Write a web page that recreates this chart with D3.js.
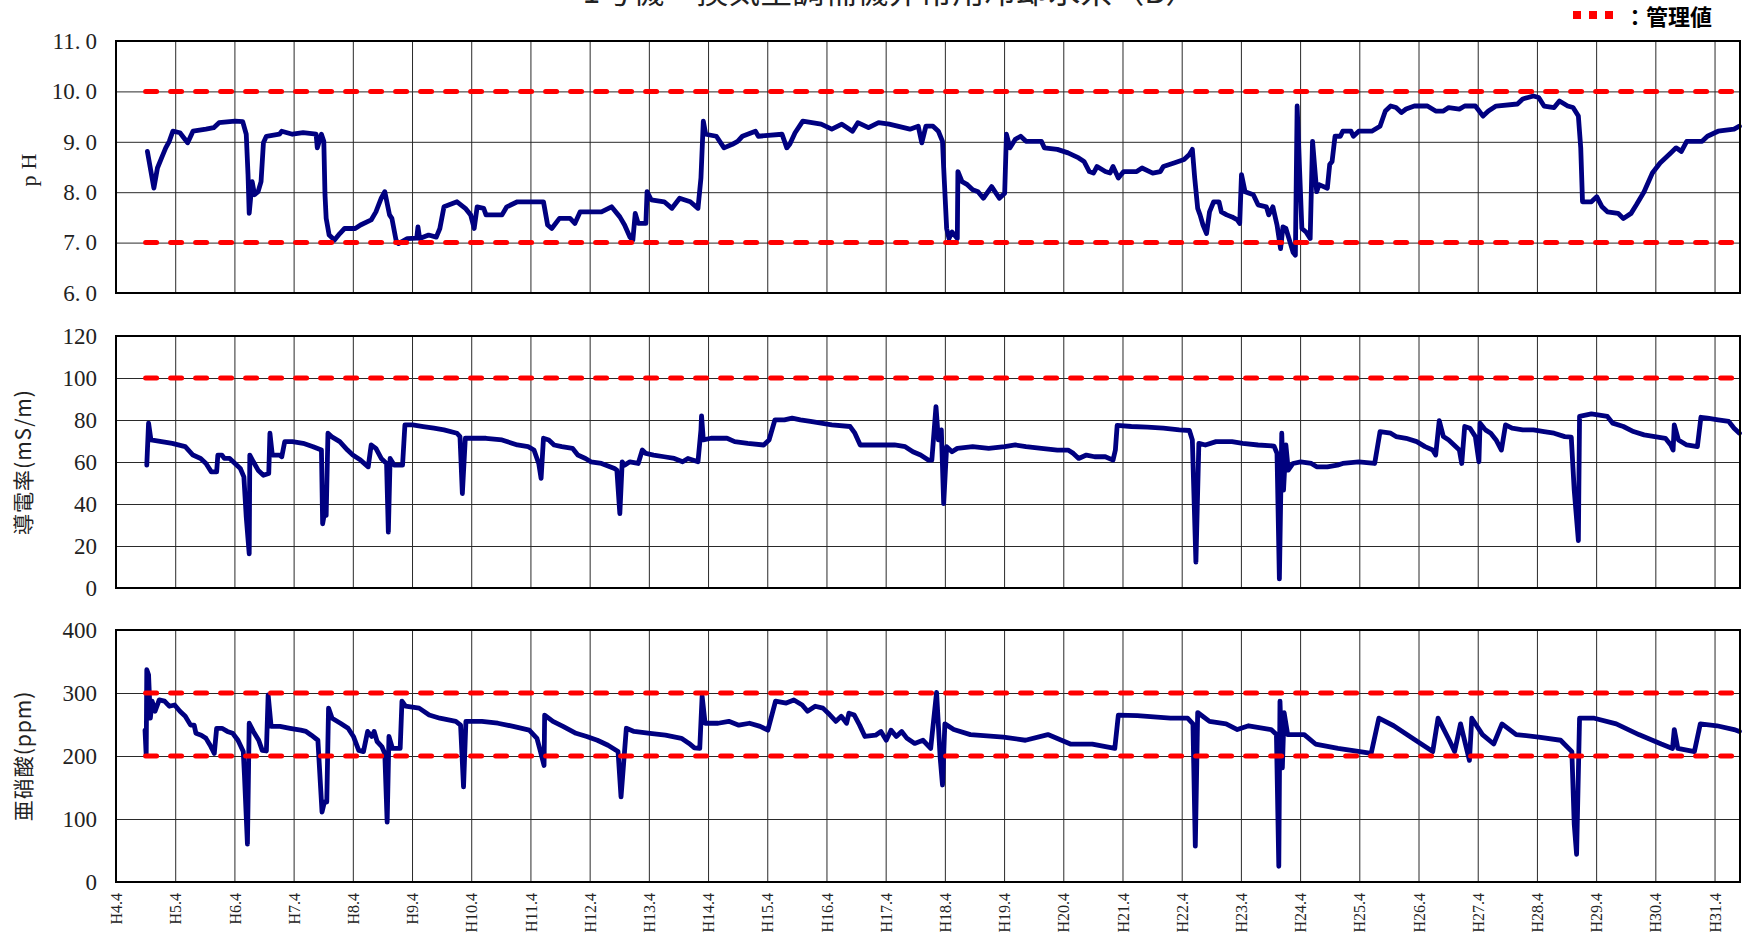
<!DOCTYPE html>
<html><head><meta charset="utf-8">
<script src="https://cdnjs.cloudflare.com/ajax/libs/d3/7.8.5/d3.min.js"></script>
<style>body{margin:0;background:#fff;} svg{display:block;}</style>
</head><body>
<svg id="chart" width="1748" height="937"></svg>
<script>
// ---------------- data ----------------
const chartTitle = "1号機　換気空調補機非常用冷却水系（B）";
const legendLabel = "：管理値";
// time is in years counted from H4.4 (April 1992)
const xTickLabels = ["H4.4","H5.4","H6.4","H7.4","H8.4","H9.4","H10.4","H11.4","H12.4","H13.4",
  "H14.4","H15.4","H16.4","H17.4","H18.4","H19.4","H20.4","H21.4","H22.4","H23.4",
  "H24.4","H25.4","H26.4","H27.4","H28.4","H29.4","H30.4","H31.4"];
const xDomain = [0, 27.43];
const limitSpan = [0.5, 27.43];

const phTicks = [6, 7, 8, 9, 10, 11];
const ecTicks = [0, 20, 40, 60, 80, 100, 120];
const no2Ticks = [0, 100, 200, 300, 400];
const phLimits = [7, 10];
const ecLimits = [100];
const no2Limits = [200, 300];
const phTitle = "pH";
const ecTitle = "導電率(mS/m)";
const no2Title = "亜硝酸(ppm)";

const phData = [[0.53,8.81],[0.64,8.08],[0.70,8.48],[0.77,8.68],[0.84,8.88],[0.90,9.01],[0.96,9.21],[1.08,9.18],[1.21,8.98],[1.30,9.21],[1.52,9.25],[1.65,9.28],[1.74,9.38],[2.01,9.41],[2.14,9.40],[2.20,9.15],[2.23,8.35],[2.25,7.58],[2.30,8.21],[2.34,7.95],[2.40,8.01],[2.45,8.21],[2.49,8.98],[2.54,9.11],[2.76,9.15],[2.80,9.21],[2.98,9.15],[3.16,9.18],[3.38,9.15],[3.40,8.88],[3.47,9.15],[3.51,9.01],[3.53,7.95],[3.55,7.48],[3.60,7.15],[3.69,7.05],[3.78,7.18],[3.86,7.28],[4.04,7.28],[4.13,7.35],[4.31,7.45],[4.39,7.61],[4.48,7.88],[4.54,8.01],[4.62,7.55],[4.66,7.48],[4.73,7.05],[4.77,6.98],[4.92,7.08],[5.08,7.09],[5.10,7.31],[5.13,7.08],[5.28,7.15],[5.41,7.11],[5.47,7.28],[5.54,7.71],[5.76,7.81],[5.90,7.68],[5.99,7.55],[6.05,7.28],[6.10,7.71],[6.21,7.68],[6.25,7.55],[6.52,7.55],[6.60,7.71],[6.78,7.81],[7.22,7.81],[7.29,7.35],[7.36,7.28],[7.49,7.48],[7.67,7.48],[7.75,7.38],[7.84,7.61],[8.20,7.61],[8.37,7.71],[8.51,7.51],[8.59,7.35],[8.68,7.11],[8.73,7.05],[8.77,7.58],[8.82,7.38],[8.95,7.38],[8.97,8.01],[9.04,7.85],[9.26,7.81],[9.39,7.68],[9.52,7.88],[9.70,7.81],[9.83,7.68],[9.88,8.28],[9.92,9.41],[9.96,9.15],[10.14,9.11],[10.27,8.88],[10.41,8.95],[10.50,9.01],[10.58,9.11],[10.80,9.21],[10.85,9.11],[11.25,9.15],[11.33,8.88],[11.38,8.95],[11.47,9.18],[11.60,9.41],[11.91,9.35],[12.09,9.25],[12.26,9.35],[12.44,9.21],[12.53,9.38],[12.71,9.28],[12.88,9.38],[13.06,9.35],[13.41,9.25],[13.55,9.31],[13.61,8.98],[13.68,9.31],[13.80,9.31],[13.89,9.21],[13.96,9.01],[13.98,8.48],[14.03,7.28],[14.07,7.08],[14.12,7.21],[14.21,7.08],[14.22,8.41],[14.29,8.21],[14.38,8.15],[14.47,8.05],[14.56,8.01],[14.65,7.88],[14.79,8.11],[14.92,7.88],[15.01,7.98],[15.04,9.15],[15.10,8.88],[15.19,9.05],[15.28,9.11],[15.37,9.01],[15.63,9.01],[15.68,8.88],[15.90,8.85],[16.08,8.78],[16.26,8.68],[16.35,8.61],[16.44,8.41],[16.51,8.38],[16.57,8.51],[16.71,8.41],[16.79,8.38],[16.84,8.51],[16.93,8.28],[17.02,8.41],[17.24,8.41],[17.33,8.48],[17.51,8.38],[17.64,8.41],[17.69,8.51],[17.87,8.58],[18.04,8.65],[18.13,8.75],[18.18,8.85],[18.22,8.28],[18.27,7.68],[18.31,7.55],[18.36,7.35],[18.42,7.18],[18.47,7.61],[18.54,7.81],[18.63,7.81],[18.67,7.61],[18.76,7.55],[18.85,7.51],[18.94,7.45],[18.98,7.38],[19.01,8.35],[19.07,8.01],[19.21,7.95],[19.29,7.75],[19.43,7.71],[19.47,7.55],[19.54,7.71],[19.61,7.35],[19.67,6.88],[19.71,7.31],[19.76,7.28],[19.83,7.01],[19.88,6.81],[19.92,6.75],[19.95,9.71],[19.99,8.48],[20.03,7.28],[20.10,7.21],[20.17,7.08],[20.21,9.01],[20.28,8.01],[20.32,8.15],[20.46,8.08],[20.50,8.55],[20.54,8.61],[20.59,9.11],[20.68,9.11],[20.72,9.21],[20.86,9.21],[20.90,9.11],[20.99,9.21],[21.21,9.21],[21.35,9.31],[21.44,9.61],[21.53,9.71],[21.62,9.68],[21.71,9.58],[21.79,9.65],[21.93,9.71],[22.15,9.71],[22.29,9.61],[22.42,9.61],[22.51,9.68],[22.69,9.65],[22.78,9.71],[22.96,9.71],[23.09,9.51],[23.18,9.61],[23.31,9.71],[23.67,9.75],[23.76,9.85],[23.85,9.88],[23.94,9.91],[24.03,9.88],[24.12,9.71],[24.29,9.68],[24.38,9.81],[24.52,9.71],[24.61,9.68],[24.70,9.51],[24.74,8.88],[24.77,7.81],[24.92,7.81],[25.01,7.91],[25.10,7.71],[25.19,7.61],[25.37,7.58],[25.46,7.48],[25.59,7.58],[25.68,7.75],[25.81,8.01],[25.95,8.38],[26.08,8.58],[26.26,8.78],[26.35,8.88],[26.44,8.81],[26.53,9.01],[26.79,9.01],[26.88,9.11],[27.06,9.21],[27.33,9.25],[27.42,9.31]];

const ecData = [[0.52,58.5],[0.55,78.5],[0.59,70.5],[0.77,69.7],[0.95,68.9],[1.17,67.3],[1.30,63.3],[1.43,61.7],[1.52,59.3],[1.61,55.3],[1.70,55.3],[1.72,63.3],[1.79,63.3],[1.83,61.7],[1.92,61.7],[2.01,59.3],[2.10,56.9],[2.16,52.9],[2.20,33.8],[2.25,16.3],[2.26,63.3],[2.32,60.1],[2.40,56.1],[2.49,53.7],[2.58,54.5],[2.60,73.7],[2.64,63.3],[2.76,63.3],[2.80,62.5],[2.85,69.7],[2.98,69.7],[3.16,68.9],[3.33,67.3],[3.47,65.7],[3.49,30.6],[3.53,37.0],[3.55,34.6],[3.58,73.7],[3.64,72.1],[3.78,69.7],[3.91,65.7],[4.00,63.3],[4.13,60.9],[4.26,57.7],[4.31,68.1],[4.39,66.5],[4.48,61.7],[4.57,59.3],[4.60,26.6],[4.63,61.7],[4.70,58.5],[4.84,58.5],[4.88,77.7],[5.01,77.7],[5.19,76.9],[5.37,76.1],[5.54,75.3],[5.76,73.7],[5.81,72.1],[5.85,45.0],[5.90,71.3],[6.25,71.3],[6.52,70.5],[6.78,68.1],[6.96,67.3],[7.06,65.7],[7.14,59.3],[7.18,52.2],[7.22,71.3],[7.31,70.5],[7.40,68.1],[7.53,67.3],[7.71,66.5],[7.80,63.3],[7.93,61.7],[8.02,60.1],[8.20,59.3],[8.42,56.9],[8.46,56.1],[8.51,35.4],[8.55,60.1],[8.59,58.5],[8.68,60.1],[8.82,59.3],[8.89,65.7],[8.95,64.1],[9.08,63.3],[9.26,62.5],[9.43,61.7],[9.57,60.1],[9.66,61.7],[9.83,60.1],[9.88,75.3],[9.89,82.0],[9.92,70.5],[10.05,71.3],[10.32,71.3],[10.45,69.7],[10.67,68.9],[10.94,68.1],[11.03,70.5],[11.13,80.1],[11.29,80.1],[11.42,80.9],[11.56,80.1],[11.73,79.3],[11.91,78.5],[12.09,77.7],[12.40,76.9],[12.48,73.7],[12.57,68.1],[12.97,68.1],[13.15,68.1],[13.33,67.3],[13.46,64.9],[13.59,63.3],[13.72,60.9],[13.78,60.9],[13.85,86.4],[13.89,70.5],[13.94,75.3],[13.98,40.2],[14.03,67.3],[14.12,64.9],[14.21,66.5],[14.47,67.3],[14.74,66.5],[15.01,67.3],[15.19,68.1],[15.37,67.3],[15.63,66.5],[15.90,65.7],[16.08,65.7],[16.17,64.1],[16.26,61.7],[16.39,63.3],[16.53,62.5],[16.71,62.5],[16.84,60.9],[16.88,65.7],[16.91,77.4],[17.15,76.9],[17.42,76.6],[17.69,76.1],[17.96,75.3],[18.13,75.0],[18.18,70.5],[18.24,12.3],[18.29,68.9],[18.40,68.1],[18.58,69.7],[18.85,69.7],[19.03,68.9],[19.29,68.1],[19.56,67.6],[19.61,64.1],[19.65,4.3],[19.69,73.7],[19.72,46.6],[19.76,68.1],[19.80,56.1],[19.88,59.3],[20.01,60.1],[20.19,59.3],[20.28,57.7],[20.46,57.7],[20.63,58.5],[20.72,59.3],[20.99,60.1],[21.26,59.3],[21.35,74.5],[21.53,73.7],[21.62,72.1],[21.79,71.3],[21.97,69.7],[22.11,67.3],[22.24,65.7],[22.29,63.3],[22.35,79.7],[22.42,72.1],[22.51,70.5],[22.60,68.1],[22.69,65.7],[22.73,59.3],[22.78,76.9],[22.87,76.1],[22.96,72.1],[23.02,60.1],[23.04,78.5],[23.13,75.3],[23.22,73.7],[23.31,70.5],[23.40,65.7],[23.47,77.7],[23.58,76.1],[23.76,75.3],[23.94,75.3],[24.12,74.5],[24.29,73.7],[24.47,72.1],[24.58,71.8],[24.63,46.6],[24.70,22.6],[24.72,81.7],[24.92,82.9],[25.19,81.7],[25.28,78.5],[25.46,76.9],[25.63,74.5],[25.81,72.9],[25.99,72.1],[26.17,71.3],[26.26,68.1],[26.30,65.7],[26.32,77.7],[26.39,70.5],[26.53,68.1],[26.71,67.3],[26.77,81.3],[26.88,80.9],[27.06,80.1],[27.24,79.3],[27.33,76.1],[27.42,73.7]];

const no2Data = [[0.49,241],[0.51,201],[0.52,337],[0.55,329],[0.58,260],[0.61,287],[0.66,271],[0.73,289],[0.82,287],[0.90,279],[0.99,281],[1.08,271],[1.17,263],[1.26,249],[1.32,249],[1.35,236],[1.44,233],[1.52,228],[1.59,217],[1.66,204],[1.70,244],[1.79,244],[1.88,239],[1.97,236],[2.06,225],[2.15,207],[2.17,169],[2.22,60],[2.25,252],[2.32,239],[2.41,225],[2.47,209],[2.54,208],[2.57,297],[2.62,247],[2.77,247],[2.94,244],[3.12,241],[3.21,239],[3.30,233],[3.41,225],[3.48,111],[3.52,127],[3.56,127],[3.59,276],[3.65,260],[3.79,252],[3.92,244],[4.01,231],[4.10,209],[4.18,207],[4.25,239],[4.32,231],[4.36,239],[4.41,223],[4.49,215],[4.54,204],[4.58,95],[4.61,231],[4.67,212],[4.80,212],[4.83,287],[4.89,279],[5.12,276],[5.29,265],[5.47,260],[5.74,255],[5.82,249],[5.87,151],[5.91,255],[6.18,255],[6.45,252],[6.71,247],[6.98,241],[7.11,228],[7.17,207],[7.23,185],[7.24,265],[7.38,255],[7.55,247],[7.77,236],[7.95,231],[8.13,225],[8.31,217],[8.48,207],[8.53,135],[8.62,244],[8.75,239],[9.02,236],[9.28,233],[9.55,228],[9.68,220],[9.77,213],[9.86,212],[9.90,295],[9.95,252],[10.17,252],[10.35,255],[10.52,249],[10.70,252],[10.88,247],[11.01,241],[11.14,287],[11.32,284],[11.45,289],[11.59,281],[11.68,271],[11.81,279],[11.94,276],[12.03,268],[12.16,255],[12.25,263],[12.34,252],[12.38,268],[12.47,265],[12.56,249],[12.65,231],[12.83,233],[12.92,239],[13.01,225],[13.09,241],[13.18,231],[13.27,239],[13.36,228],[13.49,220],[13.63,225],[13.76,212],[13.86,301],[13.92,198],[13.96,154],[14.00,251],[14.15,242],[14.43,234],[14.99,230],[15.36,225],[15.74,234],[16.12,219],[16.49,219],[16.87,212],[16.93,265],[17.25,264],[17.81,260],[18.10,260],[18.19,251],[18.23,57],[18.27,269],[18.47,255],[18.75,251],[18.94,242],[19.13,248],[19.51,242],[19.60,234],[19.64,25],[19.66,287],[19.70,181],[19.73,269],[19.79,234],[20.07,234],[20.26,219],[20.64,212],[21.01,207],[21.20,204],[21.33,260],[21.58,248],[21.95,225],[22.24,207],[22.33,260],[22.52,225],[22.61,207],[22.71,251],[22.80,216],[22.86,193],[22.90,260],[23.08,234],[23.27,219],[23.41,251],[23.65,234],[24.03,230],[24.40,225],[24.59,207],[24.63,92],[24.67,44],[24.72,260],[24.97,260],[25.34,251],[25.72,234],[26.10,219],[26.29,212],[26.32,242],[26.38,212],[26.66,207],[26.76,251],[27.04,248],[27.33,242],[27.42,239]];

// ---------------- drawing ----------------
const svg = d3.select("#chart");
const plotLeft = 116, plotRight = 1740;
const x = d3.scaleLinear().domain(xDomain).range([plotLeft, plotRight]);
const numFont = "'Liberation Serif', serif";
const cjkFont = "'Noto Sans CJK JP', sans-serif";

const panels = [
  {top: 41, bottom: 293, ticks: phTicks, fmt: d3.format(".1f"), data: phData, limits: phLimits, title: phTitle},
  {top: 336, bottom: 588, ticks: ecTicks, fmt: d3.format("d"), data: ecData, limits: ecLimits, title: ecTitle},
  {top: 630, bottom: 882, ticks: no2Ticks, fmt: d3.format("d"), data: no2Data, limits: no2Limits, title: no2Title}
];

panels.forEach((p, i) => {
  const y = d3.scaleLinear().domain(d3.extent(p.ticks)).range([p.bottom, p.top]);
  const g = svg.append("g");

  // horizontal grid
  g.append("g").attr("transform", `translate(${plotLeft},0)`)
    .call(d3.axisLeft(y).tickValues(p.ticks).tickSize(-(plotRight - plotLeft)).tickFormat(""))
    .call(s => s.select(".domain").remove())
    .call(s => s.selectAll("line").attr("stroke", "#2a2a2a").attr("stroke-width", 1));
  // vertical grid
  g.append("g").attr("transform", `translate(0,${p.bottom})`)
    .call(d3.axisBottom(x).tickValues(d3.range(1, xTickLabels.length)).tickSize(-(p.bottom - p.top)).tickFormat(""))
    .call(s => s.select(".domain").remove())
    .call(s => s.selectAll("line").attr("stroke", "#2a2a2a").attr("stroke-width", 1));

  // y tick labels
  const yl = g.append("g").attr("transform", `translate(${plotLeft},0)`)
    .call(d3.axisLeft(y).tickValues(p.ticks).tickSize(0).tickPadding(19).tickFormat(p.fmt))
    .call(s => s.select(".domain").remove())
    .call(s => s.selectAll("text").attr("font-family", numFont).attr("font-size", 23).attr("fill", "#222"));
  if (i === 0) {
    // wide decimal point as in the reference ("11. 0")
    yl.selectAll("text").each(function () {
      const parts = this.textContent.split(".");
      const t = d3.select(this).text("");
      t.append("tspan").text(parts[0] + ".");
      t.append("tspan").attr("dx", 5).text(parts[1]);
    });
  }

  // data line
  const line = d3.line().x(d => x(d[0])).y(d => y(d[1]));
  g.append("path").datum(p.data)
    .attr("d", line).attr("fill", "none")
    .attr("stroke", "#000080").attr("stroke-width", 4.8)
    .attr("stroke-linejoin", "round").attr("stroke-linecap", "round");

  // management limits
  p.limits.forEach(v => {
    g.append("line")
      .attr("x1", x(limitSpan[0])).attr("x2", x(limitSpan[1]))
      .attr("y1", y(v)).attr("y2", y(v))
      .attr("stroke", "#ff0000").attr("stroke-width", 5)
      .attr("stroke-dasharray", "11,14").attr("stroke-linecap", "round");
  });

  // border
  g.append("rect").attr("x", plotLeft).attr("y", p.top)
    .attr("width", plotRight - plotLeft).attr("height", p.bottom - p.top)
    .attr("fill", "none").attr("stroke", "#000").attr("stroke-width", 2);

  // y title
  const cy = (p.top + p.bottom) / 2;
  const t = g.append("text").attr("transform", `translate(${i === 0 ? 28 : 22},${cy}) rotate(-90)`)
    .attr("text-anchor", "middle").attr("dominant-baseline", "central")
    .attr("fill", "#222").text(p.title);
  if (i === 0) t.attr("font-family", numFont).attr("font-size", 22).attr("letter-spacing", 6);
  else t.attr("font-family", cjkFont).attr("font-size", 21).attr("letter-spacing", 1);

  // x tick labels on bottom panel
  if (i === panels.length - 1) {
    g.append("g").attr("transform", `translate(0,${p.bottom})`)
      .call(d3.axisBottom(x).tickValues(d3.range(0, xTickLabels.length)).tickSize(0).tickFormat(k => xTickLabels[k]))
      .call(s => s.select(".domain").remove())
      .call(s => s.selectAll("text")
        .attr("transform", "rotate(-90)")
        .attr("text-anchor", "end").attr("x", -11).attr("y", 0).attr("dy", "0.35em")
        .attr("font-family", numFont).attr("font-size", 16).attr("fill", "#222"));
  }
});

// title (partly cut at the top edge, as in the reference)
svg.append("text").attr("x", 890).attr("y", 3)
  .attr("text-anchor", "middle").attr("font-family", cjkFont).attr("font-size", 32)
  .attr("fill", "#222").text(chartTitle);

// legend
svg.append("line").attr("x1", 1573).attr("x2", 1613).attr("y1", 15).attr("y2", 15)
  .attr("stroke", "#ff0000").attr("stroke-width", 8).attr("stroke-dasharray", "8,8");
svg.append("text").attr("x", 1624).attr("y", 25)
  .attr("font-family", cjkFont).attr("font-weight", "bold").attr("font-size", 22)
  .attr("fill", "#000").text(legendLabel);
</script>
</body></html>
